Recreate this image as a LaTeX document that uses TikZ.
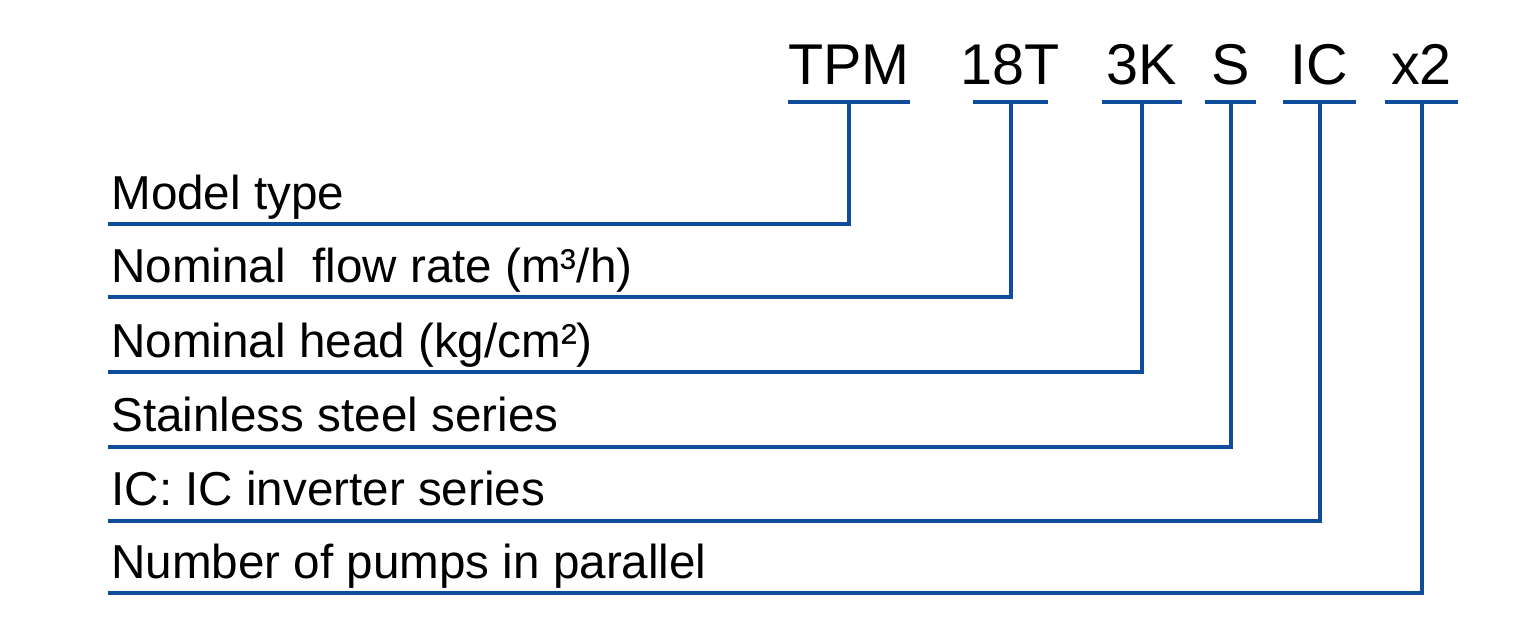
\documentclass[tikz,border=0pt]{standalone}
\usepackage{fontspec}
\setmainfont{Liberation Sans}
\definecolor{lineblue}{RGB}{16,76,156}
\begin{document}
\begin{tikzpicture}[x=0.5pt,y=-0.5pt,
  code/.style={inner sep=0pt, anchor=base, text depth=9pt,
    font=\fontsize{28.75}{32}\selectfont},
  rowlabel/.style={inner sep=0pt, anchor=base west, text depth=7.5pt,
    font=\fontsize{23.8}{28}\selectfont},
  link/.style={draw=lineblue, line width=2pt},
  ul/.style={draw=lineblue, line width=2pt}]
\useasboundingbox (0,0) rectangle (1536,638);
% code letters
\node[code] (tpm) at (849,84)    {TPM};
\node[code] (ft)  at (1010.5,84) {18T};
\node[code] (hk)  at (1142,84)   {3K};
\node[code] (ss)  at (1230.5,84) {S};
\node[code] (ic)  at (1319.5,84) {IC};
\node[code] (xn)  at (1421.5,84) {x2};
% row labels
\node[rowlabel] (r1) at (111,209) {Model type};
\node[rowlabel] (r2) at (111,282) {Nominal~~flow rate (m³/h)};
\node[rowlabel] (r3) at (111,357) {Nominal head (kg/cm²)};
\node[rowlabel] (r4) at (111,431.5) {Stainless steel series};
\node[rowlabel] (r5) at (111,505.5) {IC: IC inverter series};
\node[rowlabel] (r6) at (111,578) {Number of pumps in parallel};
% underlines
\foreach \n/\w in {tpm/30.5pt,ft/18.75pt,hk/20pt,ss/12.75pt,ic/18.25pt,xn/18.25pt}
  \draw[ul] ([xshift=-\w]\n.south) -- ([xshift=\w]\n.south);
% connectors
\draw[link] (tpm.south) |- ([xshift=-1.5pt]r1.south west);
\draw[link] (ft.south)  |- ([xshift=-1.5pt]r2.south west);
\draw[link] (hk.south)  |- ([xshift=-1.5pt]r3.south west);
\draw[link] (ss.south)  |- ([xshift=-1.5pt]r4.south west);
\draw[link] (ic.south)  |- ([xshift=-1.5pt]r5.south west);
\draw[link] (xn.south)  |- ([xshift=-1.5pt]r6.south west);
\end{tikzpicture}
\end{document}
